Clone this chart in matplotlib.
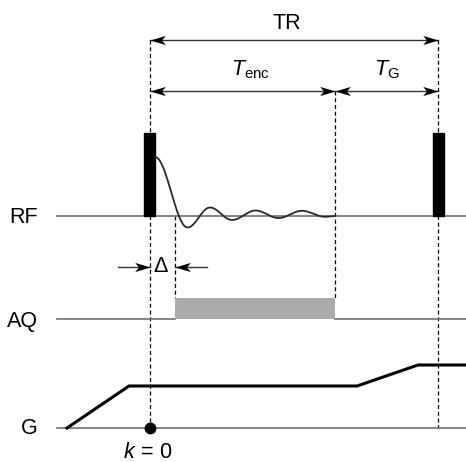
import numpy as np
import matplotlib
matplotlib.use("Agg")
import matplotlib.pyplot as plt
from matplotlib.path import Path
from matplotlib.markers import MarkerStyle
from matplotlib.transforms import Affine2D

plt.rcParams['font.family'] = ['Liberation Sans', 'DejaVu Sans']
plt.rcParams['mathtext.fontset'] = 'custom'
plt.rcParams['mathtext.rm'] = 'Liberation Sans'
plt.rcParams['mathtext.it'] = 'Liberation Sans:italic'

# ---- diagram data (timeline units = pixel-like scale) ----
row_labels = ["RF", "AQ", "G"]
row_levels = [216, 319, 428]
label_baselines = [222.7, 326.7, 434.5]
line_start, line_end = 57, 466

pulse_times = [149.5, 438.5]
pulse_width = 11
pulse_top = 133

# FID extrema (time, level)
fid_t = [155, 187.5, 210, 232, 255.5, 278.5, 302, 325, 335]
fid_v = [157, 227.5, 207.5, 220, 210.5, 218, 210.8, 216.8, 216]

aq_start, aq_end, aq_top = 175, 335, 298

g_t = [67, 129, 357, 418, 466]
g_v = [428, 386, 386, 365, 365]

t_tr_start, t_enc_end, t_tr_end = 149.5, 335, 438
y_tr, y_enc = 40, 90.5
y_delta = 266.7

fig = plt.figure(figsize=(4.66, 4.62), dpi=100)
ax = fig.add_axes([0, 0, 1, 1])
ax.set_xlim(0, 466)
ax.set_ylim(462, 0)
ax.axis('off')

base_col = '#707070'
rf_y, aq_y, g_y = row_levels

# dashed guide lines
dash_kw = dict(color='black', lw=0.9, dashes=(3.2, 2.2), zorder=1)
ax.plot([t_tr_start, t_tr_start], [y_tr, g_y], **dash_kw)
ax.plot([t_tr_end, t_tr_end], [y_tr, g_y], **dash_kw)
ax.plot([t_enc_end, t_enc_end], [y_enc, aq_top], **dash_kw)
ax.plot([aq_start, aq_start], [rf_y, aq_top], **dash_kw)

# baselines
ax.plot([line_start, line_end], [rf_y, rf_y], color=base_col, lw=1.2, zorder=2)
ax.plot([line_start, aq_start], [aq_y, aq_y], color=base_col, lw=1.2, zorder=2)
ax.plot([aq_end, line_end], [aq_y, aq_y], color=base_col, lw=1.2, zorder=2)
ax.plot([line_start, line_end], [g_y, g_y], color=base_col, lw=1.2, zorder=2)

# RF pulses
for tp in pulse_times:
    ax.add_patch(plt.Rectangle((tp - pulse_width / 2, pulse_top), pulse_width,
                               rf_y - pulse_top, color='black', zorder=3))

# FID: half-cosine segments between extrema
xs, ys = [], []
for i in range(len(fid_t) - 1):
    s = np.linspace(0, 1, 40)
    xs.append(fid_t[i] + (fid_t[i + 1] - fid_t[i]) * s)
    ys.append(fid_v[i] + (fid_v[i + 1] - fid_v[i]) * (1 - np.cos(np.pi * s)) / 2)
ax.plot(np.concatenate(xs), np.concatenate(ys), color='#2a2a2a', lw=1.3, zorder=4)

# AQ window
ax.add_patch(plt.Rectangle((aq_start, aq_top), aq_end - aq_start, aq_y - aq_top,
                           facecolor='#ababab', edgecolor='none', zorder=2))

# gradient
ax.plot(g_t, g_v, color='black', lw=2.2, solid_joinstyle='miter', zorder=4)
ax.plot([t_tr_start], [g_y], 'o', color='black', ms=7.5, zorder=5)

# stealth arrow heads
head_path = Path([(0, 0), (-1, 0.3), (-0.75, 0), (-1, -0.3), (0, 0)],
                 [Path.MOVETO, Path.LINETO, Path.LINETO, Path.LINETO, Path.CLOSEPOLY])


def head(x, y, angle):
    m = MarkerStyle(head_path, transform=Affine2D().rotate_deg(angle))
    ax.plot([x], [y], marker=m, ms=22, color='black', mew=0, zorder=6)


arr_col = '#333333'


def dim(x0, x1, y):
    ax.plot([x0, x1], [y, y], color=arr_col, lw=1.0, zorder=5)
    head(x0, y, 180)
    head(x1, y, 0)


dim(t_tr_start, t_tr_end, y_tr)
dim(t_tr_start, t_enc_end, y_enc)
dim(t_enc_end, t_tr_end, y_enc)

ax.plot([118, t_tr_start], [y_delta, y_delta], color=arr_col, lw=1.0, zorder=5)
head(t_tr_start, y_delta, 0)
ax.plot([207, aq_start], [y_delta, y_delta], color=arr_col, lw=1.0, zorder=5)
head(aq_start, y_delta, 180)

# texts
fs = 15.5
ax.text(287, 29, "TR", fontsize=fs, ha='center', va='baseline')
ax.text(250, 75, r"$T_{\mathrm{enc}}$", fontsize=fs, ha='center', va='baseline')
ax.text(387, 75, r"$T_{\mathrm{G}}$", fontsize=fs, ha='center', va='baseline')
ax.text(161, 271.7, "Δ", fontsize=fs, ha='center', va='baseline')
ax.text(147.5, 458, r"$k\,\mathrm{=}\,0$", fontsize=fs, ha='center', va='baseline')
for lab, lb in zip(row_labels, label_baselines):
    ax.text(38, lb, lab, fontsize=fs, ha='right', va='baseline')

fig.savefig("out.png", dpi=100)
